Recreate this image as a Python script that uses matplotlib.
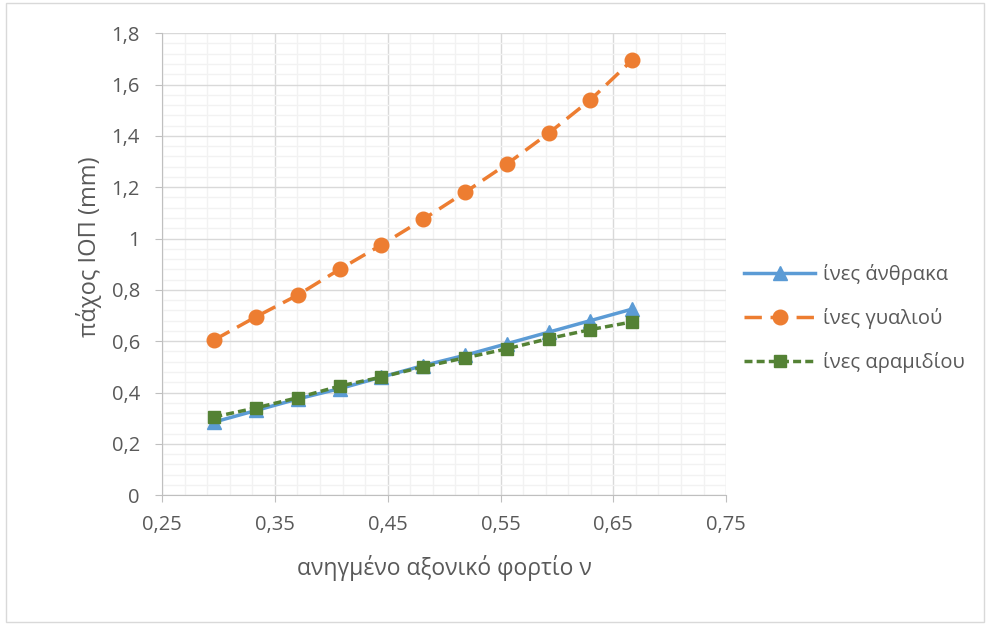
import numpy as np
import matplotlib
matplotlib.use("Agg")
import matplotlib.pyplot as plt
from matplotlib.ticker import MultipleLocator, FuncFormatter
from matplotlib.patches import Rectangle

plt.rcParams['font.family'] = ['Open Sans', 'DejaVu Sans']

# axial load ratio v
nu = [0.2963, 0.3333, 0.3704, 0.4074, 0.4444, 0.4815, 0.5185, 0.5556, 0.5926, 0.6296, 0.6667]

carbon = [0.285, 0.33, 0.375, 0.415, 0.46, 0.505, 0.545, 0.59, 0.635, 0.68, 0.725]
glass = [0.605, 0.695, 0.78, 0.88, 0.975, 1.075, 1.18, 1.29, 1.41, 1.54, 1.695]
aramid = [0.305, 0.34, 0.38, 0.425, 0.46, 0.50, 0.535, 0.57, 0.61, 0.645, 0.675]

labels = ['ίνες άνθρακα', 'ίνες γυαλιού', 'ίνες αραμιδίου']

txt = '#595959'

fig = plt.figure(figsize=(9.88, 6.26), dpi=100)
fig.patches.append(Rectangle((0.006, 0.006), 0.99, 0.99, transform=fig.transFigure,
                             fill=False, edgecolor='#d9d9d9', linewidth=1))
ax = fig.add_axes([0.164, 0.209, 0.571, 0.738])

ax.plot(nu, carbon, color='#5b9bd5', lw=2.5, marker='^', ms=9.5, label=labels[0])
ax.plot(nu, glass, color='#ed7d31', lw=2.5, ls=(0, (5, 2.5)), marker='o', ms=10.5, label=labels[1])
ax.plot(nu, aramid, color='#548235', lw=2.5, ls=(0, (2.3, 1.2)), marker='s', ms=9, label=labels[2])

ax.set_xlim(0.25, 0.75)
ax.set_ylim(0, 1.8)
ax.xaxis.set_major_locator(MultipleLocator(0.1, offset=0.05))
ax.xaxis.set_minor_locator(MultipleLocator(0.02, offset=0.01))
ax.yaxis.set_major_locator(MultipleLocator(0.2))
ax.yaxis.set_minor_locator(MultipleLocator(0.04))

fmt = FuncFormatter(lambda v, p: ('%g' % round(v, 2)).replace('.', ','))
ax.xaxis.set_major_formatter(fmt)
ax.yaxis.set_major_formatter(fmt)

ax.grid(which='major', color='#d9d9d9', lw=1)
ax.grid(which='minor', color='#f2f2f2', lw=1)
ax.set_axisbelow(True)
for s in ['top', 'right']:
    ax.spines[s].set_visible(False)
for s in ['left', 'bottom']:
    ax.spines[s].set_color('#bfbfbf')
ax.tick_params(which='major', colors='#bfbfbf', labelcolor=txt, labelsize=14.5, length=5)
ax.tick_params(which='minor', length=0)
ax.tick_params(axis='x', pad=9)
ax.tick_params(axis='y', pad=11)

ax.set_xlabel('ανηγμένο αξονικό φορτίο ν', fontsize=16.5, color=txt, labelpad=15)
ax.set_ylabel('πάχος ΙΟΠ (mm)', fontsize=17, color=txt)
ax.yaxis.set_label_coords(-0.106, 0.537)

ax.legend(loc='center left', bbox_to_anchor=(1.0, 0.383), frameon=False, fontsize=14.5,
          labelcolor=txt, handlelength=3.5, handletextpad=0.4, labelspacing=1.15)

fig.savefig('out.png', dpi=100)
